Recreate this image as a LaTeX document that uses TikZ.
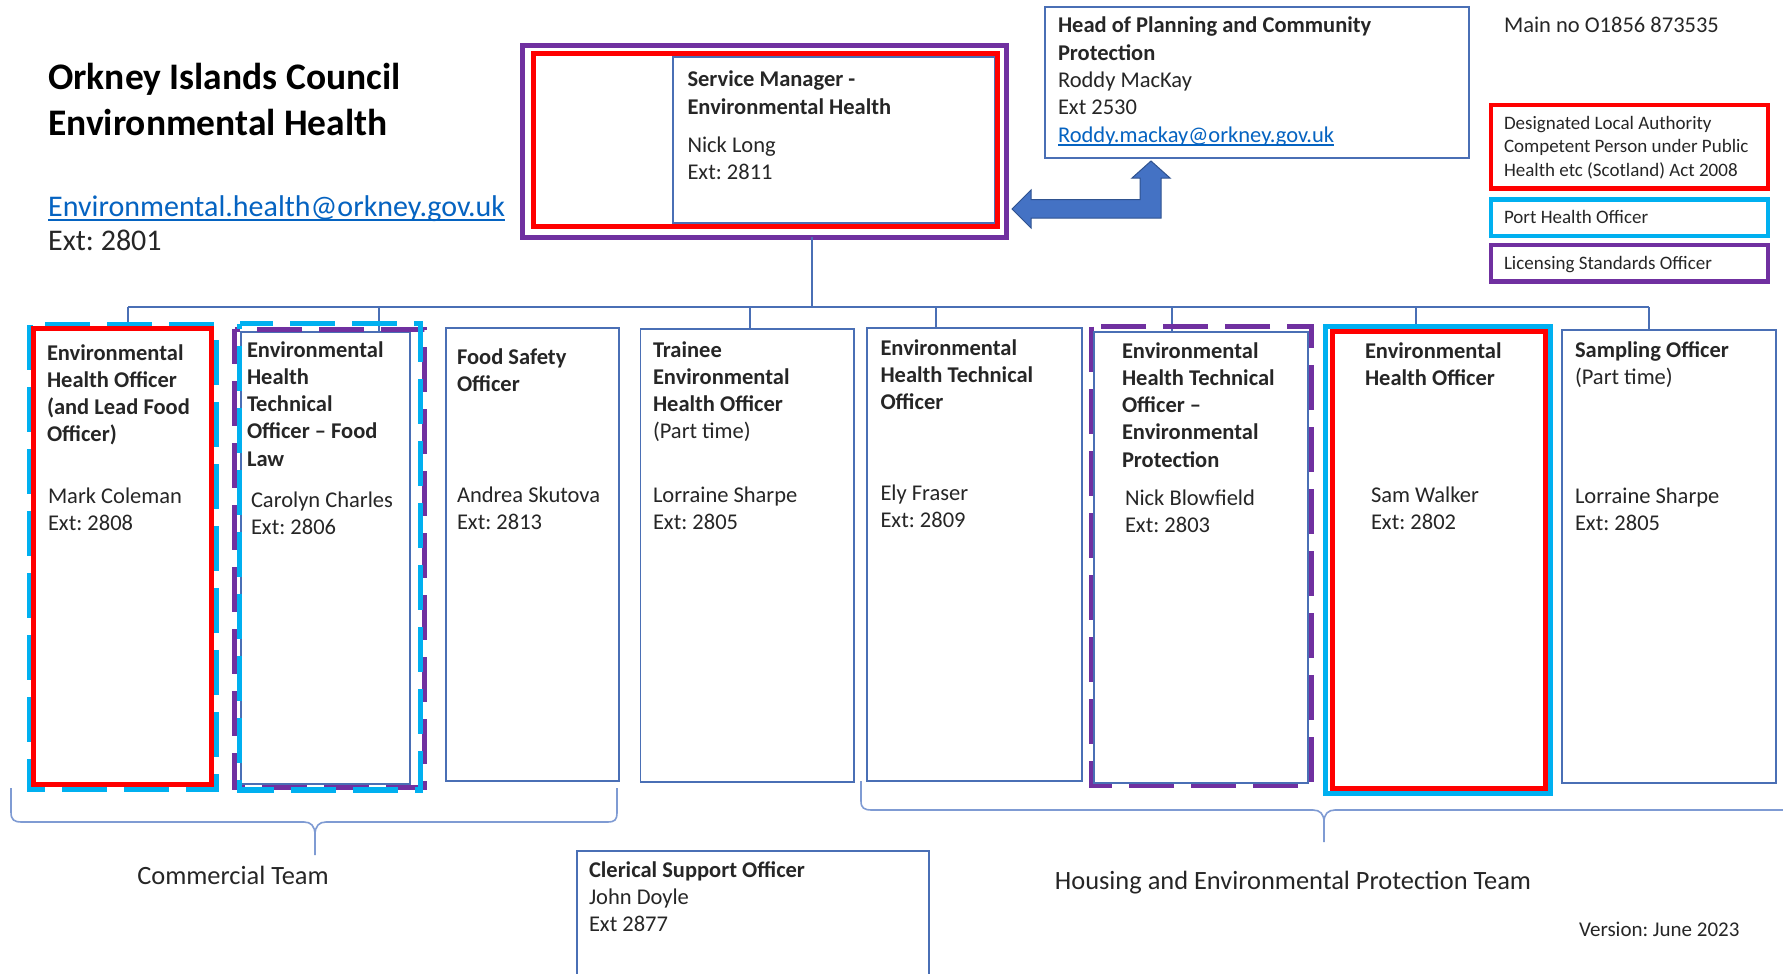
\documentclass[tikz,border=0pt]{standalone}
\usepackage{fontspec}
\setmainfont{Carlito}
\frenchspacing
\definecolor{boxblue}{HTML}{4A6FB5}
\definecolor{ored}{HTML}{FF0000}
\definecolor{ocyan}{HTML}{00B0F0}
\definecolor{opurple}{HTML}{7030A0}
\definecolor{linkblue}{HTML}{0563C1}
\definecolor{arrowfill}{HTML}{4472C4}
\definecolor{arrowline}{HTML}{2F528F}
\definecolor{bracecol}{HTML}{7F9BD3}
\definecolor{txtgray}{HTML}{262626}
\newcommand\vt[1]{\vtop{\halign{##\hfil\cr#1\crcr}}}
\newcommand\boxfont{\fontsize{22.5}{27.3}\selectfont}
\newcommand\ttlfont{\fontsize{37.5}{46}\selectfont}
\newcommand\emlfont{\fontsize{30}{34}\selectfont}
\newcommand\legfont{\fontsize{19}{23.5}\selectfont}
\newcommand\teamfont{\fontsize{26.4}{30}\selectfont}
\newcommand\verfont{\fontsize{21}{25}\selectfont}
\newsavebox\myulbox
\newcommand\myul[1]{\sbox\myulbox{#1}\rlap{\vrule height -0.09em depth 0.15em width \wd\myulbox}\usebox\myulbox}
\begin{document}
\begin{tikzpicture}[x=1pt,y=-1pt,
  thinb/.style={draw=boxblue,line width=1.3pt},
  boxn/.style={thinb,anchor=north west,inner sep=0pt,outer sep=0pt},
  conn/.style={draw=boxblue,line width=1.3pt},
  txt/.style={anchor=base west,inner sep=0pt,outer sep=0pt,font=\boxfont,text=txtgray},
  redline/.style={draw=ored,line width=5pt},
  cyanline/.style={draw=ocyan,line width=5.5pt},
  purpline/.style={draw=opurple,line width=5pt},
  dashA/.style={dash pattern=on 45pt off 17pt},
  bracepath/.style={draw=bracecol,line width=1.6pt},
]
\useasboundingbox (0,0) rectangle (1783,974);
\clip (0,0) rectangle (1783,974);
\fill[white] (0,0) rectangle (1783,974);

% ---------- title ----------
\node[anchor=base west,inner sep=0pt,font=\ttlfont] (title) at (48,89)
  {\vt{\textbf{Orkney Islands Council}\cr\textbf{Environmental Health}}};
\node[anchor=base west,inner sep=0pt,font=\emlfont,text=txtgray] (email) at (48,216)
  {\vt{\textcolor{linkblue}{\myul{Environmental.health@orkney.gov.uk}}\cr Ext: 2801}};

% ---------- service manager ----------
\node[boxn,minimum width=322pt,minimum height=166pt] (smin) at (673,57) {};
\node[anchor=north west,inner sep=0pt,outer sep=0pt,redline,minimum width=463.8pt,minimum height=172.5pt] (sm) at (533.5,54) {};
\node[anchor=north west,inner sep=0pt,outer sep=0pt,purpline,minimum width=484.5pt,minimum height=191pt] (smp) at (522,46) {};
\node[txt] (smh) at (687.5,87) {\vt{\textbf{Service Manager -}\cr\textbf{Environmental Health}}};
\node[txt] (smn) at (687.5,152) {\vt{Nick Long\cr Ext: 2811}};

% ---------- head of planning ----------
\node[boxn,minimum width=424pt,minimum height=151pt] (head) at (1045,7) {};
\node[txt] (headt) at (1058,33) {\vt{\textbf{Head of Planning and Community}\cr\textbf{Protection}\cr Roddy MacKay\cr Ext 2530\cr \textcolor{linkblue}{\myul{Roddy.mackay@orkney.gov.uk}}}};

\node[txt] (mainno) at (1504,33) {Main no O1856 873535};

% ---------- bent arrow ----------
\filldraw[fill=arrowfill,draw=arrowline,line width=1pt,line join=miter]
  (1012,209) -- (1031,190) -- (1031,199.5) -- (1140,199.5) -- (1140,178) -- (1132,178)
  -- (1151,161) -- (1170,178) -- (1161,178) -- (1161,218) -- (1031,218) -- (1031,228) -- cycle;

% ---------- legend ----------
\node[anchor=north west,inner sep=0pt,outer sep=0pt,draw=ored,line width=4.5pt,minimum width=277pt,minimum height=83.3pt] (leg1) at (1491,105) {};
\node[anchor=north west,inner sep=0pt,outer sep=0pt,draw=ocyan,line width=4.5pt,minimum width=277pt,minimum height=36.3pt] (leg2) at (1491,199.5) {};
\node[anchor=north west,inner sep=0pt,outer sep=0pt,draw=opurple,line width=4.5pt,minimum width=277pt,minimum height=36.7pt] (leg3) at (1491,245) {};
\node[txt,font=\legfont] (leg1t) at (1504,129) {\vt{Designated Local Authority\cr Competent Person under Public\cr Health etc (Scotland) Act 2008}};
\node[txt,font=\legfont] (leg2t) at (1504,223) {Port Health Officer};
\node[txt,font=\legfont] (leg3t) at (1504,269) {Licensing Standards Officer};

% ---------- connectors ----------
\coordinate (bus) at (0,307);
\coordinate (smdrop) at (812,0);
\coordinate (d1) at (128,0);
\coordinate (d2) at (379,0);
\coordinate (d4) at (750,0);
\coordinate (d5) at (936,0);
\coordinate (d6) at (1172,0);
\coordinate (d7) at (1416,0);
\coordinate (d8) at (1649,0);

% ---------- staff boxes (thin) ----------
\node[boxn,minimum width=169pt,minimum height=452pt] (b2) at (241,332) {};
\node[boxn,minimum width=173pt,minimum height=453pt] (b3) at (446,328) {};
\node[boxn,minimum width=213.5pt,minimum height=453pt] (b4) at (640.5,329) {};
\node[boxn,minimum width=215pt,minimum height=453pt] (b5) at (867,328) {};
\node[boxn,minimum width=214pt,minimum height=451pt] (b6) at (1094,332) {};
\node[boxn,minimum width=214pt,minimum height=453pt] (b8) at (1562,330) {};
\node[anchor=north west,inner sep=0pt,outer sep=0pt,minimum width=178pt,minimum height=456pt] (b1) at (33.5,328.5) {};
\node[anchor=north west,inner sep=0pt,outer sep=0pt,minimum width=213pt,minimum height=456.5pt] (b7) at (1332,331.5) {};

\draw[conn] (smdrop |- smp.south) -- (smdrop |- bus);
\draw[conn] (d1 |- bus) -- (d8 |- bus);
\draw[conn] (d1 |- bus) -- (d1 |- b1.north);
\draw[conn] (d2 |- bus) -- (d2 |- b2.north);
\draw[conn] (d4 |- bus) -- (d4 |- b4.north);
\draw[conn] (d5 |- bus) -- (d5 |- b5.north);
\draw[conn] (d6 |- bus) -- (d6 |- b6.north);
\draw[conn] (d7 |- bus) -- (d7 |- b7.north);
\draw[conn] (d8 |- bus) -- (d8 |- b8.north);

% ---------- coloured borders ----------
% box 1
\draw[cyanline,dashA] (30,325) rectangle (216,789);
\draw[redline] (b1.north west) rectangle (b1.south east);
% box 2
\draw[purpline,dashA,dash phase=10pt] (234.5,329) rectangle (424.5,787.5);
\draw[cyanline,dashA,dash phase=40pt] (239.5,323.5) rectangle (420.5,790);
% box 6
\draw[purpline,dashA] (1091,326.5) rectangle (1311,785);
\draw[thinb] (b6.north west) rectangle (b6.south east);
% box 7
\draw[cyanline] (1325.5,326.5) rectangle (1550.5,793.5);
\draw[redline] (b7.north west) rectangle (b7.south east);

% ---------- staff texts ----------
\node[txt] (t1h) at (47,360) {\vt{\textbf{Environmental}\cr\textbf{Health Officer}\cr\textbf{(and Lead Food}\cr\textbf{Officer)}}};
\node[txt] (t1n) at (48,503) {\vt{Mark Coleman\cr Ext: 2808}};
\node[txt] (t2h) at (247,357) {\vt{\textbf{Environmental}\cr\textbf{Health}\cr\textbf{Technical}\cr\textbf{Officer – Food}\cr\textbf{Law}}};
\node[txt] (t2n) at (251,507) {\vt{Carolyn Charles\cr Ext: 2806}};
\node[txt] (t3h) at (457,364) {\vt{\textbf{Food Safety}\cr\textbf{Officer}}};
\node[txt] (t3n) at (457,502) {\vt{Andrea Skutova\cr Ext: 2813}};
\node[txt] (t4h) at (653,357) {\vt{\textbf{Trainee}\cr\textbf{Environmental}\cr\textbf{Health Officer}\cr(Part time)}};
\node[txt] (t4n) at (653,502) {\vt{Lorraine Sharpe\cr Ext: 2805}};
\node[txt] (t5h) at (880.5,355) {\vt{\textbf{Environmental}\cr\textbf{Health Technical}\cr\textbf{Officer}}};
\node[txt] (t5n) at (880.5,500) {\vt{Ely Fraser\cr Ext: 2809}};
\node[txt] (t6h) at (1122,358) {\vt{\textbf{Environmental}\cr\textbf{Health Technical}\cr\textbf{Officer –}\cr\textbf{Environmental}\cr\textbf{Protection}}};
\node[txt] (t6n) at (1125,505) {\vt{Nick Blowfield\cr Ext: 2803}};
\node[txt] (t7h) at (1365,358) {\vt{\textbf{Environmental}\cr\textbf{Health Officer}}};
\node[txt] (t7n) at (1371,502) {\vt{Sam Walker\cr Ext: 2802}};
\node[txt] (t8h) at (1575,357) {\vt{\textbf{Sampling Officer}\cr(Part time)}};
\node[txt] (t8n) at (1575,503) {\vt{Lorraine Sharpe\cr Ext: 2805}};

% ---------- braces ----------
\draw[bracepath] (11,788) -- (11,812) .. controls (11,820) and (14,822) .. (22,822) -- (304,822)
  .. controls (311,822) and (315,826) .. (315,835) -- (315,855);
\draw[bracepath] (315,835) .. controls (315,826) and (319,822) .. (326,822) -- (607,822)
  .. controls (615,822) and (617,820) .. (617,812) -- (617,788);
\draw[bracepath] (861,781) -- (861,801) .. controls (861,808) and (864,810) .. (872,810) -- (1313,810)
  .. controls (1320,810) and (1324,814) .. (1324,822) -- (1324,842);
\draw[bracepath] (1324,822) .. controls (1324,814) and (1328,810) .. (1335,810) -- (1800,810);

\node[anchor=base,inner sep=0pt,font=\teamfont,text=txtgray] (comm) at (233,884) {Commercial Team};
\node[anchor=base,inner sep=0pt,font=\teamfont,text=txtgray] (hep) at (1293,889) {Housing and Environmental Protection Team};

% ---------- clerical ----------
\node[boxn,minimum width=352pt,minimum height=160pt] (cler) at (577,851) {};
\node[txt] (clert) at (589,877) {\vt{\textbf{Clerical Support Officer}\cr John Doyle\cr Ext 2877}};

\node[anchor=base west,inner sep=0pt,font=\verfont,text=txtgray] (ver) at (1579,936) {Version: June 2023};
\end{tikzpicture}
\end{document}
